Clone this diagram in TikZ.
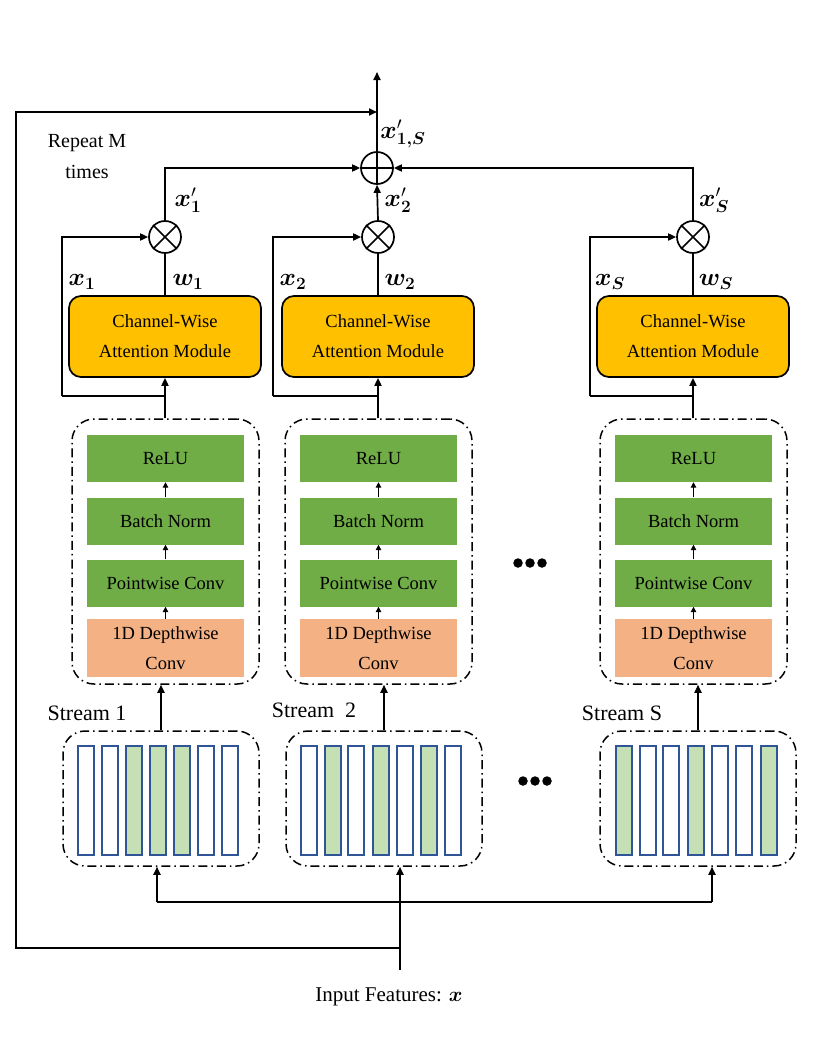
\documentclass[tikz,border=0pt]{standalone}
\usepackage{fontspec}
\setmainfont{Liberation Serif}
\usepackage{bm}
\usetikzlibrary{arrows.meta,calc}
\definecolor{attnc}{HTML}{FFC000}
\definecolor{greenc}{HTML}{70AD47}
\definecolor{orangec}{HTML}{F4B183}
\definecolor{bargreen}{HTML}{C5E0B4}
\definecolor{barblue}{HTML}{2F5597}
\tikzset{
 ln/.style={line width=1.7pt},
 arr/.style={ln,-{Triangle[length=8pt,width=7pt]}},
 sarr/.style={line width=1.2pt,-{Triangle[length=5.5pt,width=5.5pt]}},
 attn/.style={draw, line width=1.7pt, fill=attnc, rounded corners=12pt, minimum width=192pt, minimum height=81pt, align=center, font=\fontsize{18.5}{30}\selectfont},
 gbox/.style={fill=greenc, minimum width=157pt, minimum height=47pt, font=\fontsize{18.5}{22}\selectfont, inner sep=0pt},
 obox/.style={fill=orangec, minimum width=157pt, minimum height=58pt, align=center, font=\fontsize{18.5}{30}\selectfont, inner sep=0pt},
 dbox/.style={draw, line width=1.5pt, dash pattern=on 9pt off 4pt on 1.5pt off 4pt, rounded corners=22pt, inner sep=0pt},
 bar/.style={draw=barblue, line width=1.7pt, minimum width=16pt, minimum height=109pt, inner sep=0pt},
 gbar/.style={bar, fill=bargreen},
 wbar/.style={bar, fill=white},
 ml/.style={font=\fontsize{25}{27}\selectfont, inner sep=0pt},
 lbl/.style={font=\fontsize{20}{31}\selectfont, align=center, inner sep=0pt},
 slbl/.style={font=\fontsize{22}{26}\selectfont, inner sep=0pt},
 opc/.style={draw, line width=1.7pt, circle, minimum size=32pt, inner sep=0pt},
 dot/.style={fill, circle, minimum size=9.5pt, inner sep=0pt},
}
\begin{document}
\begin{tikzpicture}[x=1pt,y=-1pt]
\path[use as bounding box] (0,0) rectangle (830,1052);

% columns
\foreach \i/\c/\L/\bc in {1/165/62/161, 2/378/273/384, S/693/590/698}{
  \node[attn] (a\i) at (\c,336.5) {Channel-Wise\\Attention Module};
  \node[opc] (m\i) at (\c,237) {};
  \draw[ln] (m\i.north west) -- (m\i.south east) (m\i.north east) -- (m\i.south west);
  \node[dbox, minimum width=187pt, minimum height=265pt] (d\i) at (\c+0.5,551.5) {};
  \node[gbox] (r\i) at (\c+0.5,458.5) {ReLU};
  \node[gbox] (n\i) at (\c+0.5,521) {Batch Norm};
  \node[gbox] (p\i) at (\c+0.5,583) {Pointwise Conv};
  \node[obox] (dw\i) at (\c+0.5,648) {1D Depthwise\\Conv};
  \draw[sarr] (dw\i.north) -- (p\i.south);
  \draw[sarr] (p\i.north) -- (n\i.south);
  \draw[sarr] (n\i.north) -- (r\i.south);
  \draw[arr] (a\i.south |- d\i.north) -- (a\i.south);
  \coordinate (br\i) at (\c,396);
  \coordinate (lp\i) at (\L,396);
  \draw[ln] (br\i) -- (lp\i);
  \draw[arr] (lp\i) |- (m\i.west);
  \draw[ln] (a\i.north) -- (m\i.south);
  \node[dbox, minimum width=196pt, minimum height=135pt] (b\i) at (\bc,798.5) {};
  \draw[arr] (b\i.north) -- (b\i.north |- d\i.south);
}

% bars
\foreach \x/\s in {86/w,110/w,134/g,158/g,182/g,206/w,230/w,
                   309/w,333/g,356/w,381/g,405/w,429/g,453/w,
                   624/g,648/w,671/w,696/g,720/w,744/w,769/g}{
  \node[\s bar] at (\x,800.5) {};
}

% sum
\node[opc] (ps) at (377,168) {};
\draw[ln] (ps.north) -- (ps.south) (ps.west) -- (ps.east);
\draw[arr] (m1.north) |- (ps.west);
\draw[arr] (m2.north) -- (ps.south);
\draw[arr] (mS.north) |- (ps.east);
\coordinate (out) at (377,72);
\draw[arr] (ps.north) -- (out);

% outer loop and input
\coordinate (in) at (400,970);
\coordinate (j) at (400,948);
\coordinate (bl) at (16,948);
\coordinate (tl) at (16,112);
\coordinate (tr) at (377,112);
\draw[arr] (j) -- (bl) -- (tl) -- (tr);
\draw[arr] (in) -- (in |- b2.south);
\coordinate (h1) at (157,902);
\coordinate (hS) at (712,902);
\draw[ln] (h1) -- (hS);
\draw[arr] (h1) -- (h1 |- b1.south);
\draw[arr] (hS) -- (hS |- bS.south);

% labels
\node[lbl] (rep) at (87,157) {Repeat M\\times};
\node[slbl] (s1) at (87,713) {Stream 1};
\node[slbl] (s2) at (314,710) {Stream\ \ 2};
\node[slbl] (sS) at (622,713) {Stream S};
\node[font=\fontsize{21}{24}\selectfont, inner sep=0pt] (inp) at (389,997) {Input Features: $\bm{x}$};

\node[ml] (lx1s) at (403,134) {$\bm{x}'_{\bm{1,S}}$};
\node[ml] (lx1p) at (188,200) {$\bm{x}'_{\bm{1}}$};
\node[ml] (lx2p) at (398,200) {$\bm{x}'_{\bm{2}}$};
\node[ml] (lxSp) at (714,200) {$\bm{x}'_{\bm{S}}$};
\node[ml] (lx1) at (82,282) {$\bm{x}_{\bm{1}}$};
\node[ml] (lw1) at (188,282) {$\bm{w}_{\bm{1}}$};
\node[ml] (lx2) at (293,282) {$\bm{x}_{\bm{2}}$};
\node[ml] (lw2) at (400,282) {$\bm{w}_{\bm{2}}$};
\node[ml] (lxS) at (610,282) {$\bm{x}_{\bm{S}}$};
\node[ml] (lwS) at (716,282) {$\bm{w}_{\bm{S}}$};

% ellipsis dots
\foreach \k/\x in {1/518,2/530,3/542}{\node[dot] (da\k) at (\x,563) {};}
\foreach \k/\x in {1/523,2/535,3/547}{\node[dot] (db\k) at (\x,781) {};}
\end{tikzpicture}
\end{document}
